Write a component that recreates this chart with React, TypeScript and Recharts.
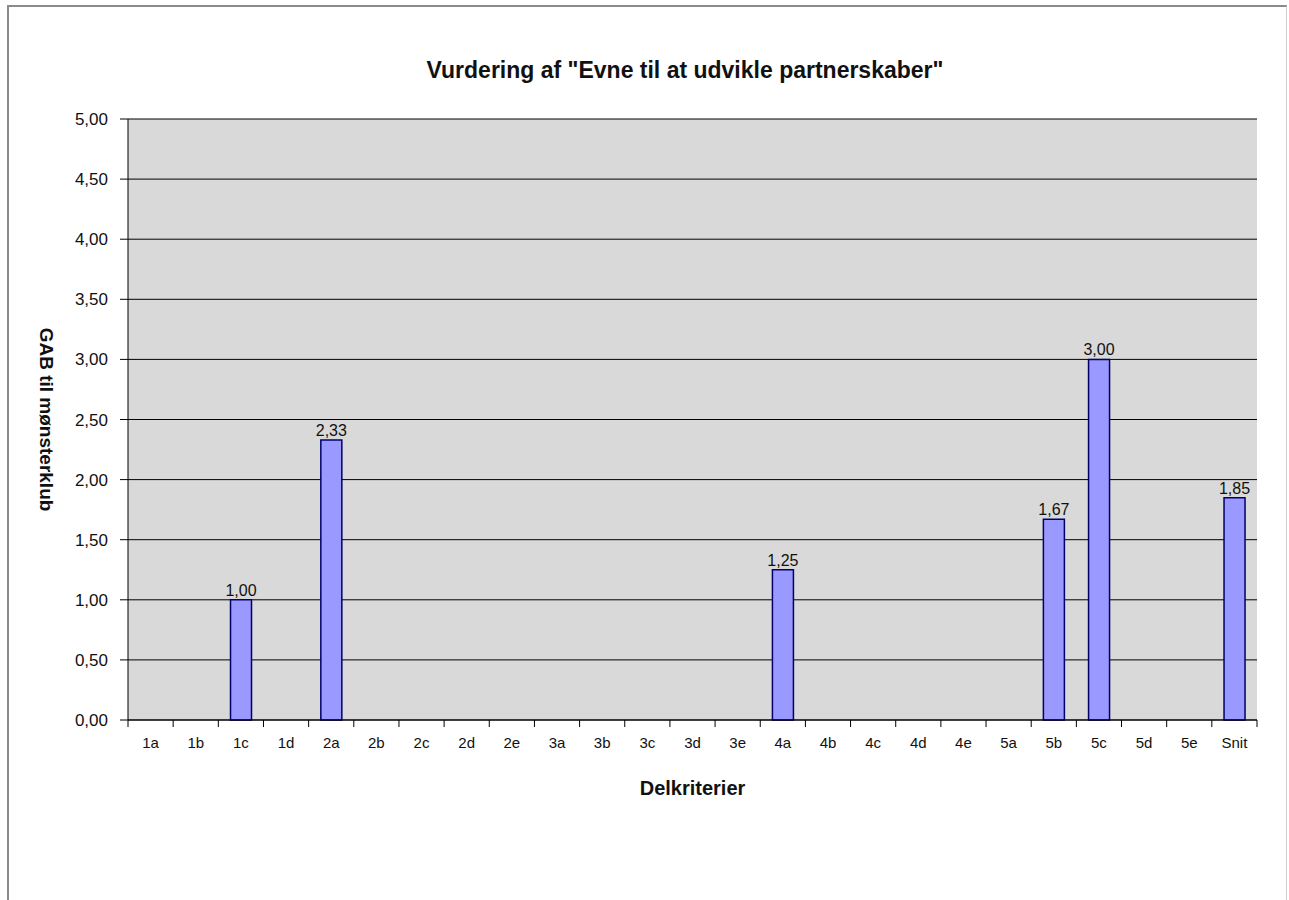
import React from "react";
import {
  BarChart,
  Bar,
  XAxis,
  YAxis,
  CartesianGrid,
  LabelList,
} from "recharts";

const categories = [
  "1a", "1b", "1c", "1d",
  "2a", "2b", "2c", "2d", "2e",
  "3a", "3b", "3c", "3d", "3e",
  "4a", "4b", "4c", "4d", "4e",
  "5a", "5b", "5c", "5d", "5e",
  "Snit",
];

const gabValues: (number | null)[] = [
  null, null, 1.0, null,
  2.33, null, null, null, null,
  null, null, null, null, null,
  1.25, null, null, null, null,
  null, 1.67, 3.0, null, null,
  1.85,
];

const yTicks = [0, 0.5, 1, 1.5, 2, 2.5, 3, 3.5, 4, 4.5, 5];

const data = categories.map((name, i) => ({ name, value: gabValues[i] }));

const W = 1289;
const H = 900;
const M = { top: 119, right: 32, bottom: 100, left: 8 };
const Y_AXIS_W = 120;
const X_AXIS_H = 80;
const FONT = "'Liberation Sans', Arial, sans-serif";
const plotW = W - M.left - M.right - Y_AXIS_W;
const band = plotW / categories.length;

const fmt = (v: any) =>
  v === null || v === undefined || v === "" ? "" : Number(v).toFixed(2).replace(".", ",");

function XTick(props: any) {
  const { x, y, payload, index } = props;
  const axisY = y - 7;
  const half = band / 2;
  return (
    <g>
      <line x1={x - half} x2={x - half} y1={axisY} y2={axisY + 7} stroke="#000" />
      {index === categories.length - 1 && (
        <line x1={x + half} x2={x + half} y1={axisY} y2={axisY + 7} stroke="#000" />
      )}
      <text
        x={x}
        y={axisY + 28}
        textAnchor="middle"
        fontSize={15}
        fontFamily={FONT}
        fill="#111"
      >
        {payload.value}
      </text>
    </g>
  );
}

export default function App() {
  return (
    <div
      style={{
        position: "absolute",
        left: 0,
        top: 0,
        width: W,
        height: H,
        background: "#fff",
        fontFamily: FONT,
      }}
    >
      <div
        style={{
          position: "absolute",
          left: 7,
          top: 5,
          width: W - 9,
          height: H,
          borderLeft: "2px solid #8a8a8a",
          borderTop: "2px solid #8a8a8a",
          borderRight: "1px solid #cfcfcf",
          boxSizing: "border-box",
        }}
      />
      <BarChart
        width={W}
        height={H}
        data={data}
        margin={M}
        barCategoryGap="27%"
        style={{ position: "absolute", left: 0, top: 0 }}
      >
        <CartesianGrid
          vertical={false}
          stroke="#000"
          strokeOpacity={1}
          fill="#d9d9d9"
          fillOpacity={1}
        />
        <XAxis
          dataKey="name"
          height={X_AXIS_H}
          axisLine={{ stroke: "#000" }}
          tickLine={false}
          tickSize={7}
          tickMargin={0}
          interval={0}
          tick={<XTick />}
          label={{
            value: "Delkriterier",
            position: "insideBottom",
            offset: 5,
            fontSize: 20,
            fontWeight: "bold",
            fill: "#111",
            fontFamily: FONT,
          }}
        />
        <YAxis
          domain={[0, 5]}
          ticks={yTicks}
          width={Y_AXIS_W}
          axisLine={{ stroke: "#000" }}
          tickLine={{ stroke: "#000" }}
          tickSize={8}
          tickMargin={12}
          tickFormatter={fmt}
          tick={{ fontSize: 17, fill: "#111", fontFamily: FONT }}
          interval={0}
          label={{
            value: "GAB til mønsterklub",
            angle: 90,
            position: "insideLeft",
            offset: 39,
            fontSize: 19,
            fontWeight: "bold",
            fill: "#111",
            fontFamily: FONT,
            textAnchor: "middle",
          }}
        />
        <YAxis
          yAxisId="frame"
          orientation="right"
          width={0}
          tick={false}
          tickLine={false}
          axisLine={{ stroke: "#000" }}
        />
        <Bar
          dataKey="value"
          fill="#9999ff"
          stroke="#000066"
          strokeWidth={1.5}
          isAnimationActive={false}
        >
          <LabelList
            dataKey="value"
            position="top"
            offset={4}
            formatter={fmt}
            fontSize={16}
            fill="#111"
            fontFamily={FONT}
          />
        </Bar>
      </BarChart>
      <div
        style={{
          position: "absolute",
          left: 385,
          width: 600,
          top: 56,
          textAlign: "center",
          fontSize: 23,
          lineHeight: "28px",
          fontWeight: "bold",
          color: "#111",
          whiteSpace: "nowrap",
        }}
      >
        Vurdering af "Evne til at udvikle partnerskaber"
      </div>
    </div>
  );
}
